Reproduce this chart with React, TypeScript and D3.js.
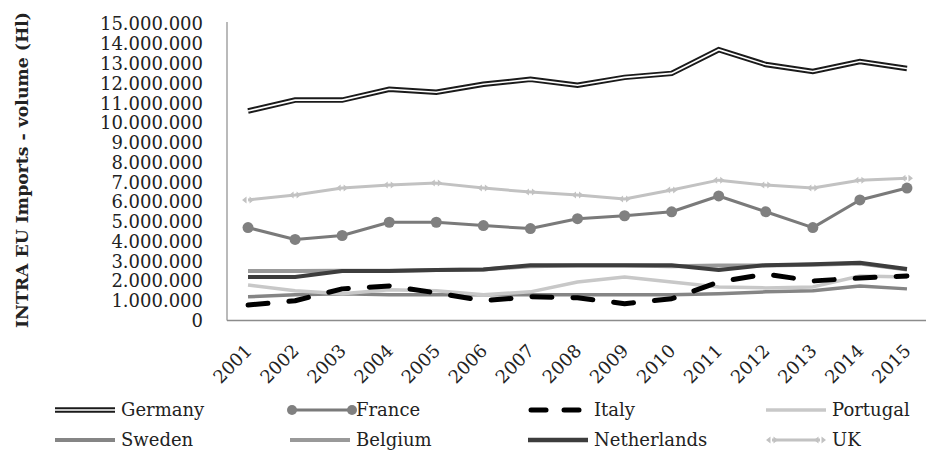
import React from "react";
import * as d3 from "d3";

const years = ["2001","2002","2003","2004","2005","2006","2007","2008","2009","2010","2011","2012","2013","2014","2015"];
const yTicks = [0,1e6,2e6,3e6,4e6,5e6,6e6,7e6,8e6,9e6,10e6,11e6,12e6,13e6,14e6,15e6];

const germany = [10.6,11.15,11.15,11.7,11.55,11.95,12.2,11.9,12.3,12.5,13.7,12.95,12.6,13.1,12.75];
const france = [4.7,4.1,4.3,4.97,4.97,4.8,4.65,5.15,5.3,5.5,6.3,5.5,4.7,6.1,6.7];
const italy = [0.78,1.0,1.6,1.75,1.4,1.0,1.2,1.15,0.85,1.1,1.95,2.35,2.0,2.15,2.25];
const portugal = [1.8,1.5,1.35,1.55,1.5,1.3,1.45,1.95,2.2,1.95,1.7,1.65,1.7,2.25,2.2];
const sweden = [1.2,1.3,1.35,1.3,1.3,1.3,1.3,1.3,1.3,1.3,1.35,1.45,1.5,1.75,1.6];
const belgium = [2.5,2.5,2.52,2.52,2.55,2.58,2.75,2.78,2.78,2.75,2.78,2.78,2.82,2.88,2.58];
const netherlands = [2.2,2.2,2.5,2.5,2.55,2.58,2.8,2.8,2.8,2.8,2.55,2.8,2.85,2.92,2.6];
const uk = [6.1,6.35,6.7,6.85,6.95,6.7,6.5,6.35,6.15,6.6,7.1,6.85,6.7,7.1,7.2];

const W = 926, H = 460;
const x = d3.scalePoint<string>().domain(years).range([224.5, 930.5]).padding(0.5);
const y = d3.scaleLinear().domain([0, 15e6]).range([320.5, 24]);
const fmt = (v: number) => (v === 0 ? "0" : d3.format(",")(v).replace(/,/g, "."));

const toPts = (vals: number[]) => vals.map((v, i) => [x(years[i]) as number, y(v * 1e6)] as [number, number]);
const line = d3.line<[number, number]>();

const serif = "'DejaVu Serif', serif";
const italyDash = "20,21";

const ukMarker = (cx: number, cy: number, key: string | number) => (
  <path key={key} d={`M${cx - 6},${cy} L${cx - 1.5},${cy - 3.5} L${cx - 1.5},${cy + 3.5} Z M${cx + 6},${cy} L${cx + 1.5},${cy - 3.5} L${cx + 1.5},${cy + 3.5} Z`} fill="#c2c2c2" />
);

type Item = { name: string; col: number; row: number };
const legendItems: Item[] = [
  { name: "Germany", col: 0, row: 0 },
  { name: "France", col: 1, row: 0 },
  { name: "Italy", col: 2, row: 0 },
  { name: "Portugal", col: 3, row: 0 },
  { name: "Sweden", col: 0, row: 1 },
  { name: "Belgium", col: 1, row: 1 },
  { name: "Netherlands", col: 2, row: 1 },
  { name: "UK", col: 3, row: 1 },
];
const colX = [55, 290, 528, 766];
const rowY = [410, 440];

function LegendSymbol({ name, x0, cy }: { name: string; x0: number; cy: number }) {
  const x1 = x0 + 60;
  switch (name) {
    case "Germany":
      return (
        <g>
          <line x1={x0} x2={x1} y1={cy} y2={cy} stroke="#1a1a1a" strokeWidth={5.5} />
          <line x1={x0} x2={x1} y1={cy} y2={cy} stroke="#fff" strokeWidth={1.6} />
        </g>
      );
    case "France":
      return (
        <g>
          <line x1={x0} x2={x1 + 2} y1={cy} y2={cy} stroke="#7a7a7a" strokeWidth={3} />
          <circle cx={x0 + 2} cy={cy} r={5} fill="#808080" />
          <circle cx={x1 + 2} cy={cy} r={5} fill="#808080" />
        </g>
      );
    case "Italy":
      return (
        <g>
          <line x1={x0 + 3} x2={x0 + 18} y1={cy} y2={cy} stroke="#000" strokeWidth={5} strokeLinecap="round" />
          <line x1={x0 + 36} x2={x0 + 51} y1={cy} y2={cy} stroke="#000" strokeWidth={5} strokeLinecap="round" />
        </g>
      );
    case "Portugal":
      return <line x1={x0} x2={x1} y1={cy} y2={cy} stroke="#c8c8c8" strokeWidth={3.5} />;
    case "Sweden":
      return <line x1={x0} x2={x1} y1={cy} y2={cy} stroke="#858585" strokeWidth={4} />;
    case "Belgium":
      return <line x1={x0} x2={x1} y1={cy} y2={cy} stroke="#999999" strokeWidth={4} />;
    case "Netherlands":
      return <line x1={x0} x2={x1} y1={cy} y2={cy} stroke="#3d3d3d" strokeWidth={4.5} />;
    default:
      return (
        <g>
          <line x1={x0 + 6} x2={x1 - 6} y1={cy} y2={cy} stroke="#c2c2c2" strokeWidth={3} />
          {ukMarker(x0 + 6, cy, "a")}
          {ukMarker(x1 - 6, cy, "b")}
        </g>
      );
  }
}

export default function App() {
  const g = toPts(germany);
  return (
    <svg width={W} height={H} viewBox={`0 0 ${W} ${H}`} style={{ position: "absolute", left: 0, top: 0, background: "#fff" }}>
      <rect width={W} height={H} fill="#fff" />
      {/* axis title */}
      <text transform="translate(28,170) rotate(-90)" textAnchor="middle" fontFamily={serif} fontWeight="bold" fontSize={17} textLength={316} lengthAdjust="spacingAndGlyphs" fill="#222">
        INTRA EU Imports - volume (Hl)
      </text>
      {/* y tick labels */}
      {yTicks.map((t) => (
        <text key={t} x={203} y={y(t)} dy="0.36em" textAnchor="end" fontFamily={serif} fontSize={18} fill="#222">
          {fmt(t)}
        </text>
      ))}
      {/* axes */}
      <line x1={227} x2={227} y1={22} y2={320.5} stroke="#8c8c8c" strokeWidth={1.2} />
      <line x1={227} x2={926} y1={320.5} y2={320.5} stroke="#8c8c8c" strokeWidth={1.5} />
      {/* x tick labels */}
      {years.map((yr) => (
        <text key={yr} transform={`translate(${(x(yr) as number) + 5},352) rotate(-45)`} textAnchor="end" fontFamily={serif} fontSize={18} fill="#222">
          {yr}
        </text>
      ))}

      {/* series */}
      <path d={line(toPts(sweden)) || ""} fill="none" stroke="#858585" strokeWidth={3.5} strokeLinejoin="round" />
      <path d={line(toPts(portugal)) || ""} fill="none" stroke="#c8c8c8" strokeWidth={3.5} strokeLinejoin="round" />
      <path d={line(toPts(belgium)) || ""} fill="none" stroke="#999999" strokeWidth={4} strokeLinejoin="round" />
      <path d={line(toPts(netherlands)) || ""} fill="none" stroke="#3d3d3d" strokeWidth={4} strokeLinejoin="round" />
      <path d={line(toPts(italy)) || ""} fill="none" stroke="#000" strokeWidth={5} strokeDasharray={italyDash} strokeLinecap="round" strokeLinejoin="round" />

      <path d={line(toPts(uk)) || ""} fill="none" stroke="#c2c2c2" strokeWidth={3} strokeLinejoin="round" />
      {toPts(uk).map(([px, py], i) => ukMarker(px, py, i))}

      <path d={line(toPts(france)) || ""} fill="none" stroke="#7a7a7a" strokeWidth={3} strokeLinejoin="round" />
      {toPts(france).map(([px, py], i) => (
        <circle key={i} cx={px} cy={py} r={5.5} fill="#808080" />
      ))}

      <path d={line(g) || ""} fill="none" stroke="#1a1a1a" strokeWidth={5.5} strokeLinejoin="miter" />
      <path d={line(g) || ""} fill="none" stroke="#fff" strokeWidth={1.6} strokeLinejoin="miter" />

      {/* legend */}
      {legendItems.map((it) => {
        const x0 = colX[it.col];
        const cy = rowY[it.row];
        return (
          <g key={it.name}>
            <LegendSymbol name={it.name} x0={x0} cy={cy} />
            <text x={x0 + 66} y={cy} dy="0.36em" fontFamily={serif} fontSize={18} fill="#222">
              {it.name}
            </text>
          </g>
        );
      })}
    </svg>
  );
}
